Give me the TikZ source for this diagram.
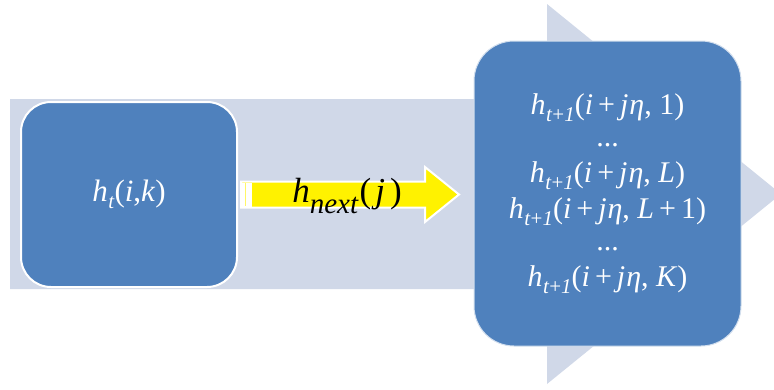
\documentclass[tikz,border=0pt]{standalone}
\usepackage{fontspec}
\setmainfont{Liberation Serif}
\definecolor{boxblue}{HTML}{4F81BD}
\definecolor{bandgray}{HTML}{D0D8E8}
\newcommand\hsub[2]{\textit{h}\kern0.5pt\raisebox{-#2}{\fontsize{21}{21}\selectfont #1}}
\newcommand\hrow[1]{\hsub{\textit{t}+\textit{1}}{7pt}(\textit{i}\,+\,\textit{j}\kern1pt\textit{η}, #1)}
\tikzset{
  bluebox/.style={rectangle, fill=boxblue, text=white, inner sep=0pt, align=center},
  band/.style={fill=bandgray},
  yarrow/.style={fill=yellow, draw=white, line width=2pt, line join=miter}
}
\begin{document}
\begin{tikzpicture}[x=1pt,y=-1pt]
\useasboundingbox (0,0) rectangle (774,389);
\begin{scope}
\clip (0,0) rectangle (774,389);
\fill[band] (10,99) -- (547,99) -- (547,4) -- (781,194) -- (547,384) -- (547,289) -- (10,289) -- cycle;
\end{scope}
\node[bluebox, draw=white, line width=2pt, rounded corners=30pt, minimum width=216pt, minimum height=185pt,
  font=\fontsize{31}{36}\selectfont] (left) at (129,194.5) {\hsub{\textit{t}}{7pt}(\textit{i},\textit{k})};
\node[bluebox, draw=white!75!boxblue, line width=1pt, rounded corners=40pt, minimum width=267pt, minimum height=305pt,
  font=\fontsize{30}{36}\selectfont] (right) at (607.5,193.5)
  {\hrow{1}\\[-4pt]...\\[0pt]\hrow{\textit{L}}\\\hrow{\textit{L}\,+\,1}\\[-4pt]...\\[0pt]\hrow{\textit{K}}};
\coordinate (tail) at (241,194.5);
\coordinate (tip) at (459,194.5);
\path[yarrow] (tail |- 0,181.5) -- (425,181.5) -- (425,167) -- (tip) -- (425,222) -- (425,207.5)
  -- (tail |- 0,207.5) -- cycle;
\fill[white] (241,182.5) rectangle (252,206.5);
\fill[yellow!60!white] (244.5,183) rectangle (246,206);
\node[font=\fontsize{35}{36}\selectfont, inner sep=0pt] (lbl) at (347,196)
  {\textit{h}\raisebox{-11pt}{\fontsize{29}{29}\selectfont\textit{next}}\kern1pt(\kern4pt\textit{j}\kern5pt)};
\end{tikzpicture}
\end{document}
